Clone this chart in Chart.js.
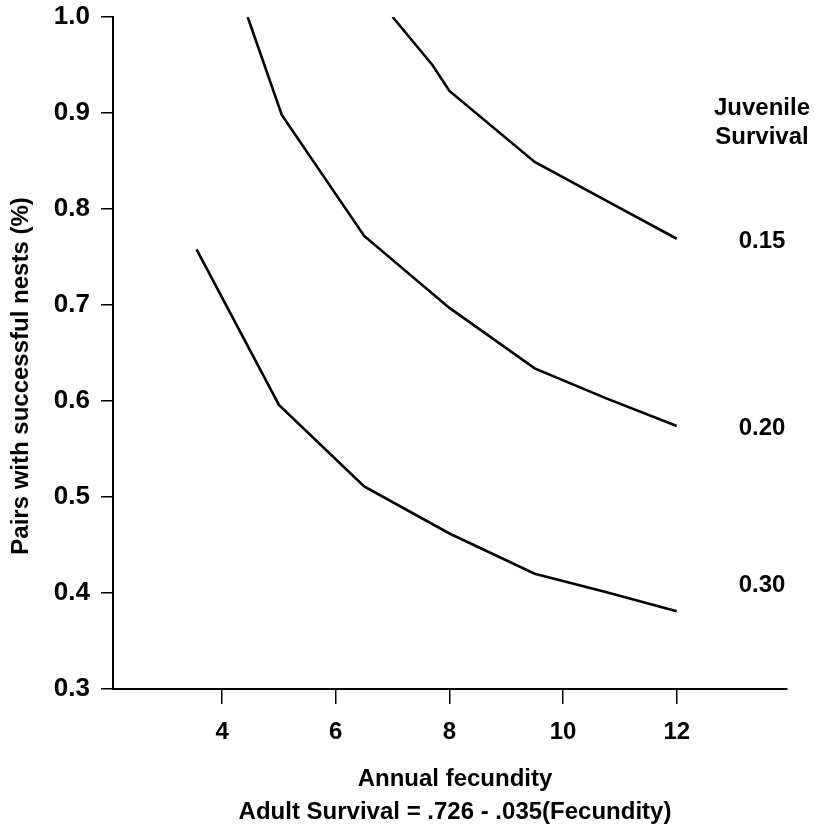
<!DOCTYPE html>
<html lang="en">
<head>
    <meta charset="UTF-8">
    <title>Pairs with successful nests vs annual fecundity</title>
    <script src="https://cdn.jsdelivr.net/npm/chart.js"></script>
    <style>
        html, body {
            margin: 0;
            padding: 0;
            background: #ffffff;
        }
        #wrap {
            width: 815px;
            height: 830px;
        }
    </style>
</head>
<body>
    <div id="wrap"><canvas id="nestChart" width="815" height="830"></canvas></div>

    <script>
        // Juvenile survival curves
        const survivalLabels = ['0.15', '0.20', '0.30'];

        const fecundity15 = [7.0, 7.7, 8.0, 9.5, 10.75, 12.0];
        const nests15 = [1.0, 0.95, 0.923, 0.849, 0.809, 0.769];

        const fecundity20 = [4.45, 5.05, 6.5, 8.0, 9.5, 10.75, 12.0];
        const nests20 = [1.0, 0.898, 0.772, 0.697, 0.634, 0.603, 0.574];

        const fecundity30 = [3.55, 5.0, 6.5, 8.0, 9.5, 10.75, 12.0];
        const nests30 = [0.758, 0.596, 0.511, 0.462, 0.420, 0.401, 0.381];

        const xTicks = [4, 6, 8, 10, 12];
        const yTicks = [0.3, 0.4, 0.5, 0.6, 0.7, 0.8, 0.9, 1.0];

        const FONT = '"Liberation Sans", Arial, sans-serif';

        function toPoints(xs, ys) {
            return xs.map((x, i) => ({ x: x, y: ys[i] }));
        }

        function curve(label, xs, ys) {
            return {
                label: label,
                data: toPoints(xs, ys),
                borderColor: '#000000',
                borderWidth: 2.6,
                pointRadius: 0,
                tension: 0,
                fill: false
            };
        }

        // axis titles and the curve labels on the right
        const textPlugin = {
            id: 'textPlugin',
            afterDraw(chart) {
                const ctx = chart.ctx;
                const area = chart.chartArea;
                const x = chart.scales.x;
                const y = chart.scales.y;
                ctx.save();
                ctx.fillStyle = '#000000';
                ctx.font = 'bold 24px ' + FONT;
                ctx.textAlign = 'center';
                ctx.textBaseline = 'middle';

                // x titles
                const cx = (area.left + area.right) / 2 + 5;
                ctx.fillText('Annual fecundity', cx, 779);
                ctx.fillText('Adult Survival = .726 - .035(Fecundity)', cx, 812);

                // y title
                ctx.save();
                ctx.translate(21, 376);
                ctx.rotate(-Math.PI / 2);
                ctx.fillText('Pairs with successful nests (%)', 0, 0);
                ctx.restore();

                // legend heading + curve labels
                const lx = x.getPixelForValue(13.5);
                ctx.fillText('Juvenile', lx, y.getPixelForValue(0.905));
                ctx.fillText('Survival', lx, y.getPixelForValue(0.875));
                const labelY = [0.766, 0.572, 0.408];
                survivalLabels.forEach((s, i) => {
                    ctx.fillText(s, lx, y.getPixelForValue(labelY[i]));
                });
                ctx.restore();
            }
        };

        new Chart(document.getElementById('nestChart').getContext('2d'), {
            type: 'line',
            data: {
                datasets: [
                    curve(survivalLabels[0], fecundity15, nests15),
                    curve(survivalLabels[1], fecundity20, nests20),
                    curve(survivalLabels[2], fecundity30, nests30)
                ]
            },
            options: {
                responsive: false,
                animation: false,
                layout: {
                    padding: { left: 0, top: 17, right: 28, bottom: 0 }
                },
                plugins: {
                    legend: { display: false },
                    tooltip: { enabled: false }
                },
                scales: {
                    x: {
                        type: 'linear',
                        min: 2.08,
                        max: 13.94,
                        afterBuildTicks: (scale) => {
                            scale.ticks = xTicks.map(v => ({ value: v }));
                        },
                        afterFit: (scale) => {
                            scale.height = 141;
                            scale.paddingLeft = 0;
                            scale.paddingRight = 0;
                        },
                        grid: {
                            display: true,
                            drawOnChartArea: false,
                            drawTicks: true,
                            tickLength: 15,
                            color: '#000000',
                            lineWidth: 1.5
                        },
                        border: { display: true, color: '#000000', width: 2 },
                        ticks: {
                            color: '#000000',
                            padding: 14,
                            maxRotation: 0,
                            font: { family: FONT, size: 24, weight: 'bold' }
                        }
                    },
                    y: {
                        type: 'linear',
                        min: 0.3,
                        max: 1.0,
                        afterBuildTicks: (scale) => {
                            scale.ticks = yTicks.map(v => ({ value: v }));
                        },
                        afterFit: (scale) => {
                            scale.width = 113;
                            scale.paddingTop = 0;
                            scale.paddingBottom = 0;
                        },
                        grid: {
                            display: true,
                            drawOnChartArea: false,
                            drawTicks: true,
                            tickLength: 12,
                            color: '#000000',
                            lineWidth: 1.5
                        },
                        border: { display: true, color: '#000000', width: 2 },
                        ticks: {
                            color: '#000000',
                            padding: 11,
                            font: { family: FONT, size: 26, weight: 'bold' },
                            callback: (v) => Number(v).toFixed(1)
                        }
                    }
                }
            },
            plugins: [textPlugin]
        });
    </script>
</body>
</html>
